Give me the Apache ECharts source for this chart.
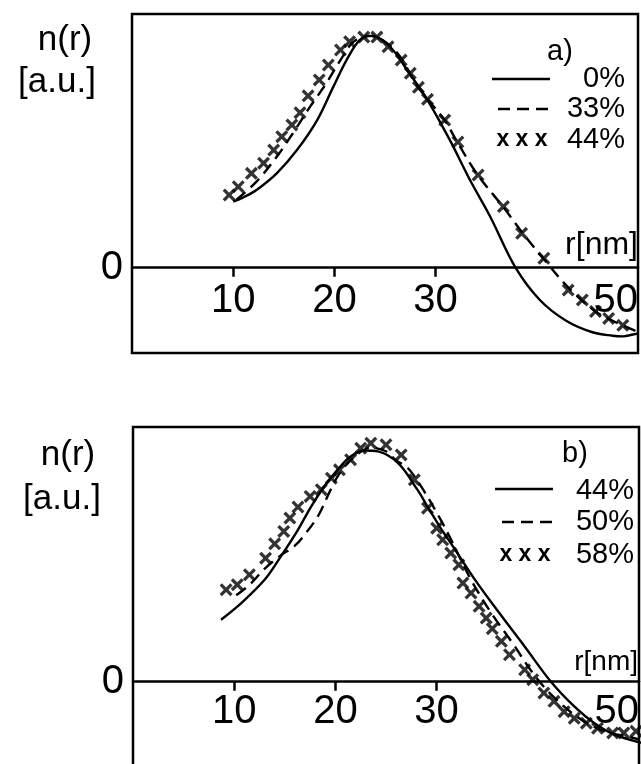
<!DOCTYPE html>
<html>
<head>
<meta charset="utf-8">
<script src="https://cdn.jsdelivr.net/npm/echarts@6/dist/echarts.min.js"></script>
<style>
html,body{margin:0;padding:0;background:#fff;}
#chart{width:641px;height:764px;}
</style>
</head>
<body>
<div id="chart"></div>
<script>
// ---- data (r in nm, n(r) in arbitrary units) ----
const xTickValues = [10, 20, 30];
const xLabelValues = [10, 20, 30, 50];
const yLabelValues = [0];

const legendA = ['0%', '33%', '44%'];
const legendB = ['44%', '50%', '58%'];

// panel a)
const a_0 = [[10.0,0.286],[11.0,0.305],[12.3,0.337],[14.3,0.409],[16.3,0.51],[18.3,0.64],[19.9,0.785],[21.2,0.9],[22.5,0.987],[23.7,1.005],[25.5,0.958],[27.4,0.843],[29.2,0.727],[31.4,0.554],[33.4,0.38],[35.4,0.221],[37.9,0.0],[40.3,-0.14],[42.9,-0.23],[45.5,-0.28],[47.5,-0.295],[48.5,-0.298],[49.5,-0.29],[50.0,-0.285]];
const a_33 = [[10.3,0.294],[12.3,0.373],[14.3,0.481],[15.9,0.583],[17.6,0.698],[19.2,0.8],[20.6,0.9],[21.9,0.98],[23.5,1.005],[25.0,0.98],[26.5,0.915],[28.0,0.8],[29.2,0.73],[30.9,0.64],[32.2,0.54],[34.2,0.4],[36.7,0.262],[38.6,0.15],[40.7,0.037],[43.2,-0.09],[45.8,-0.19],[47.5,-0.23],[48.5,-0.25],[49.8,-0.275]];
const a_44 = [[9.6,0.315],[10.5,0.351],[11.8,0.409],[13.0,0.453],[14.0,0.51],[14.8,0.568],[15.8,0.619],[16.6,0.672],[17.4,0.745],[18.5,0.814],[19.4,0.879],[20.6,0.944],[21.5,0.98],[22.9,1.0],[24.2,1.0],[25.3,0.958],[26.6,0.9],[27.5,0.843],[28.3,0.782],[29.2,0.73],[30.9,0.64],[32.2,0.545],[34.2,0.402],[36.7,0.265],[38.5,0.149],[40.7,0.041],[43.1,-0.097],[44.5,-0.14],[45.8,-0.19],[47.1,-0.22],[48.5,-0.25]];

// panel b)
const b_44 = [[8.7,0.269],[10.7,0.341],[13.0,0.442],[14.6,0.543],[16.3,0.659],[17.6,0.76],[18.9,0.847],[20.2,0.919],[21.5,0.977],[22.9,1.003],[24.2,0.999],[26.2,0.948],[28.1,0.833],[29.1,0.76],[30.3,0.673],[31.4,0.601],[33.8,0.442],[36.2,0.298],[38.7,0.153],[41.3,0.0],[43.6,-0.107],[45.6,-0.18],[47.6,-0.23],[50.2,-0.265]];
const b_50 = [[10.2,0.375],[11.5,0.42],[13.0,0.49],[14.5,0.545],[16.0,0.59],[17.0,0.64],[18.3,0.72],[19.5,0.83],[20.5,0.91],[22.0,0.98],[23.5,1.015],[25.0,1.0],[26.0,0.96],[27.1,0.93],[28.5,0.845],[30.4,0.703],[31.5,0.61],[33.4,0.442],[35.4,0.298],[37.5,0.168],[39.5,0.038],[41.5,-0.064],[44.3,-0.165],[46.7,-0.216],[48.8,-0.237],[50.0,-0.25]];
const b_58 = [[9.2,0.399],[10.3,0.421],[11.5,0.464],[13.1,0.536],[14.0,0.598],[14.9,0.652],[15.5,0.71],[16.3,0.758],[17.5,0.804],[18.6,0.833],[19.6,0.883],[20.4,0.919],[21.5,0.963],[22.5,1.013],[23.5,1.035],[25.0,1.028],[26.5,0.984],[27.8,0.876],[29.1,0.753],[30.0,0.666],[30.6,0.616],[31.4,0.558],[32.2,0.507],[32.6,0.428],[33.4,0.385],[34.2,0.327],[34.9,0.276],[35.5,0.23],[36.4,0.175],[37.2,0.117],[38.7,0.052],[39.5,0.009],[40.6,-0.049],[41.6,-0.085],[42.6,-0.13],[43.6,-0.159],[44.8,-0.18],[45.9,-0.202],[47.4,-0.222],[48.5,-0.222],[49.7,-0.215]];

// ---- styling ----
const FONT = "'Liberation Sans',Arial,sans-serif";
const CROSS = 'path://M0,1.8L1.8,0L5,3.2L8.2,0L10,1.8L6.8,5L10,8.2L8.2,10L5,6.8L1.8,10L0,8.2L3.2,5Z';

function xAxisCfg(gi, offset, margin) {
  return {
    gridIndex: gi, type: 'value', min: 0, max: 50, position: 'bottom', offset: offset,
    axisLine: { show: true, onZero: false, lineStyle: { color: '#000', width: 2.5 } },
    axisTick: { show: true, inside: false, length: 9, customValues: xTickValues, lineStyle: { color: '#000', width: 2.5 } },
    axisLabel: { customValues: xLabelValues, color: '#000', fontSize: 40, fontFamily: FONT, margin: margin, alignMaxLabel: 'right', showMaxLabel: true },
    splitLine: { show: false }
  };
}
function yAxisCfg(gi, min, max) {
  return {
    gridIndex: gi, type: 'value', min: min, max: max,
    axisLine: { show: false }, axisTick: { show: false },
    axisLabel: { customValues: yLabelValues, color: '#000', fontSize: 40, fontFamily: FONT, margin: 9 },
    splitLine: { show: false }
  };
}
function solid(name, data, i) {
  return { name, type: 'line', xAxisIndex: i, yAxisIndex: i, data, smooth: 0.35, symbol: 'none',
    lineStyle: { color: '#000', width: 2.4 }, z: 3 };
}
function dashed(name, data, i) {
  return { name, type: 'line', xAxisIndex: i, yAxisIndex: i, data, smooth: 0.35, symbol: 'none',
    lineStyle: { color: '#000', width: 2.4, type: [12, 7] }, z: 3 };
}
function crosses(name, data, i) {
  return { name, type: 'scatter', xAxisIndex: i, yAxisIndex: i, data, symbol: CROSS, symbolSize: 13,
    itemStyle: { color: '#000' }, z: 4 };
}
function txt(text, x, y, size, align, weight) {
  return { type: 'text', x: x, y: y, z: 10,
    style: { text: text, fill: '#000', font: (weight ? weight + ' ' : '') + size + 'px ' + FONT, textAlign: align || 'center', textVerticalAlign: 'middle' } };
}
function hline(x1, x2, y, dash) {
  return { type: 'line', z: 10, shape: { x1: x1, y1: y, x2: x2, y2: y },
    style: { stroke: '#000', lineWidth: 2.4, lineDash: dash || null } };
}

const option = {
  backgroundColor: '#fff',
  animation: false,
  grid: [
    { left: 132, top: 14, width: 506, height: 339, show: true, borderColor: '#000', borderWidth: 2.5, containLabel: false, outerBoundsMode: 'none' },
    { left: 133, top: 427, width: 506, height: 340, show: true, borderColor: '#000', borderWidth: 2.5, containLabel: false, outerBoundsMode: 'none' }
  ],
  xAxis: [xAxisCfg(0, -85.3, 13), xAxisCfg(1, -85.3, 10)],
  yAxis: [yAxisCfg(0, -0.37, 1.1), yAxisCfg(1, -0.37, 1.105)],
  series: [
    solid(legendA[0], a_0, 0),
    dashed(legendA[1], a_33, 0),
    crosses(legendA[2], a_44, 0),
    solid(legendB[0], b_44, 1),
    dashed(legendB[1], b_50, 1),
    crosses(legendB[2], b_58, 1)
  ],
  graphic: [
    // axis captions
    txt('n(r)', 65, 40, 35), txt('[a.u.]', 57, 82, 35),
    txt('n(r)', 68, 455, 35), txt('[a.u.]', 62, 499, 35),
    txt('r[nm]', 638, 245, 32, 'right'),
    txt('r[nm]', 638, 662, 28, 'right'),
    // legend a)
    txt('a)', 560, 52, 29),
    hline(492, 550, 79), txt(legendA[0], 625, 79, 29, 'right'),
    hline(498, 550, 109, [12, 7]), txt(legendA[1], 625, 109, 29, 'right'),
    txt('x x x', 522, 140, 23, 'center', 'bold'), txt(legendA[2], 625, 140, 29, 'right'),
    // legend b)
    txt('b)', 575, 454, 29),
    hline(495, 553, 489), txt(legendB[0], 634, 491, 29, 'right'),
    hline(502, 553, 522, [12, 7]), txt(legendB[1], 634, 522, 29, 'right'),
    txt('x x x', 525, 555, 23, 'center', 'bold'), txt(legendB[2], 634, 555, 29, 'right')
  ]
};

const chart = echarts.init(document.getElementById('chart'), null, { renderer: 'canvas', width: 641, height: 764 });
chart.setOption(option);
</script>
</body>
</html>
